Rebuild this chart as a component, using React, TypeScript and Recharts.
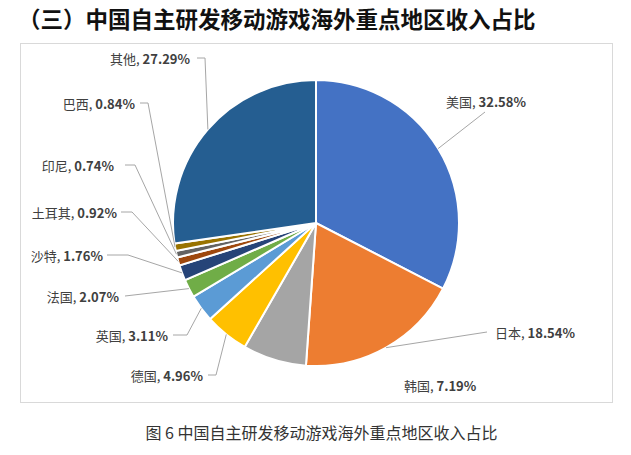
import { PieChart, Pie, Cell } from "recharts";

const NAMES = ["美国", "日本", "韩国", "德国", "英国", "法国", "沙特", "土耳其", "印尼", "巴西", "其他"];
const SHARES = [32.58, 18.54, 7.19, 4.96, 3.11, 2.07, 1.76, 0.92, 0.74, 0.84, 27.29];
const COLORS = [
  "#4472C4", "#ED7D31", "#A5A5A5", "#FFC000", "#5B9BD5", "#70AD47",
  "#264478", "#9E480E", "#636363", "#997300", "#255E91",
];

const TITLE = "（三）中国自主研发移动游戏海外重点地区收入占比";
const CAPTION = "图 6 中国自主研发移动游戏海外重点地区收入占比";

// where Excel put each data label, and the bends of its leader line
const LABEL_LAYOUT: Record<string, { x: number; y: number; anchor: "start" | "end"; pts?: number[][] }> = {
  美国: { x: 446, y: 101, anchor: "start", pts: [[485, 112]] },
  日本: { x: 495, y: 332, anchor: "start", pts: [[487, 332]] },
  韩国: { x: 404, y: 385, anchor: "start" },
  德国: { x: 203, y: 375, anchor: "end", pts: [[216, 375], [208, 375]] },
  英国: { x: 168, y: 335, anchor: "end", pts: [[187, 335], [173, 335]] },
  法国: { x: 119, y: 296, anchor: "end", pts: [[125, 296]] },
  沙特: { x: 103, y: 255, anchor: "end", pts: [[128, 255], [107, 255]] },
  土耳其: { x: 117, y: 212, anchor: "end", pts: [[132, 212], [121, 212]] },
  印尼: { x: 114, y: 165, anchor: "end", pts: [[135, 165], [125, 165]] },
  巴西: { x: 135, y: 103, anchor: "end", pts: [[148, 103], [140, 103]] },
  其他: { x: 190, y: 58, anchor: "end", pts: [[205, 58], [197, 58]] },
};

const FONT = '"Noto Sans CJK SC", "Microsoft YaHei", sans-serif';
const RAD = Math.PI / 180;

const data = NAMES.map((name, i) => ({ name, value: SHARES[i] }));

function renderLabel(props: any) {
  const { cx, cy, midAngle, outerRadius, index } = props;
  const name = NAMES[index];
  const lay = LABEL_LAYOUT[name];
  const ex = cx + outerRadius * Math.cos(-midAngle * RAD);
  const ey = cy + outerRadius * Math.sin(-midAngle * RAD);
  const line = lay.pts ? [[ex, ey], ...lay.pts] : null;
  return (
    <g key={`lbl-${index}`}>
      {line && (
        <polyline
          points={line.map((p) => p.join(",")).join(" ")}
          fill="none"
          stroke="#a6a6a6"
          strokeWidth={1}
        />
      )}
      <text
        x={lay.x}
        y={lay.y}
        textAnchor={lay.anchor}
        dominantBaseline="central"
        fontFamily={FONT}
        fontSize={13}
        fill="#404040"
      >
        <tspan>{name}, </tspan>
        <tspan fontWeight="bold">{SHARES[index].toFixed(2)}%</tspan>
      </text>
    </g>
  );
}

export default function App() {
  return (
    <div
      style={{
        position: "absolute",
        left: 0,
        top: 0,
        width: 631,
        height: 455,
        background: "#fff",
        fontFamily: FONT,
        overflow: "hidden",
      }}
    >
      <div
        style={{
          position: "absolute",
          left: 18,
          top: 5,
          fontSize: 22.5,
          fontWeight: "bold",
          lineHeight: "26px",
          color: "#111",
          whiteSpace: "nowrap",
        }}
      >
        {TITLE}
      </div>
      {/* chart frame */}
      <div
        style={{
          position: "absolute",
          left: 20,
          top: 43,
          width: 591,
          height: 358,
          border: "1px solid #d9d9d9",
        }}
      />
      <div style={{ position: "absolute", left: 0, top: 0 }}>
        <PieChart width={631} height={455} margin={{ top: 0, right: 0, bottom: 0, left: 0 }}>
          <Pie
            data={data}
            dataKey="value"
            nameKey="name"
            cx={316}
            cy={223}
            outerRadius={143}
            startAngle={90}
            endAngle={-270}
            stroke="#fff"
            strokeWidth={2}
            label={renderLabel}
            labelLine={false}
            isAnimationActive={false}
          >
            {data.map((_, i) => (
              <Cell key={`cell-${i}`} fill={COLORS[i]} />
            ))}
          </Pie>
        </PieChart>
      </div>
      <div
        style={{
          position: "absolute",
          left: 0,
          width: 643,
          top: 422,
          textAlign: "center",
          fontSize: 16,
          lineHeight: "20px",
          color: "#333",
          whiteSpace: "nowrap",
        }}
      >
        {CAPTION}
      </div>
    </div>
  );
}
